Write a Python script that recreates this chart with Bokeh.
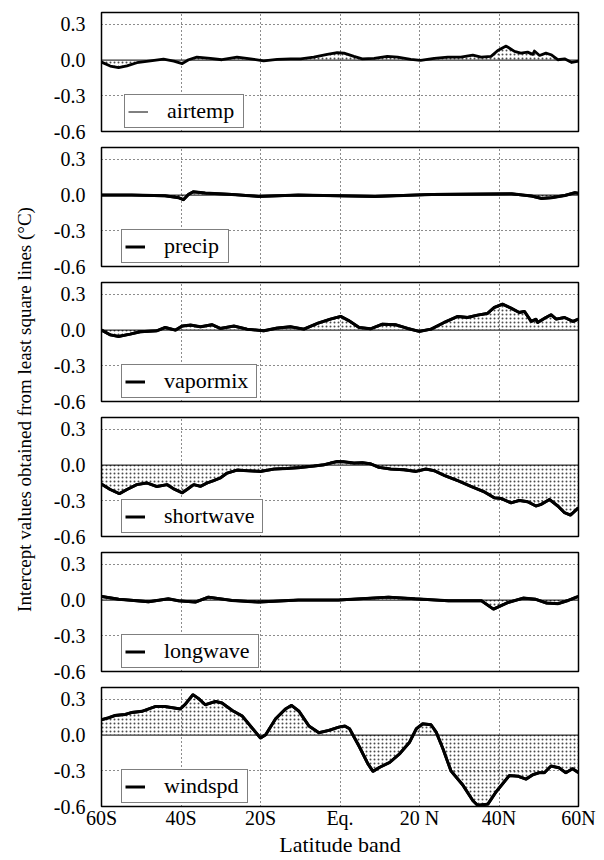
import numpy as np
from bokeh.plotting import figure
from bokeh.layouts import column, row
from bokeh.models import FixedTicker, Span, Legend, LegendItem, Range1d
from bokeh.embed import file_html
from bokeh.resources import INLINE
from bokeh.core.properties import value

FONT = "Liberation Serif"

x_ticks = [-60, -40, -20, 0, 20, 40, 60]
x_tick_labels = ["60S", "40S", "20S", "Eq.", "20 N", "40N", "60N"]
y_ticks = [-0.6, -0.3, 0.0, 0.3]
y_tick_labels = ["-0.6", "-0.3", "0.0", "0.3"]
x_label = "Latitude band"
y_label = "Intercept values obtained from least square lines (\u00b0C)"

airtemp_lat = [-60, -57.8, -55.7, -53.6, -51.1, -47.7, -44.4, -41.8, -39.7, -38.1, -36, -32.6, -29.7,
               -25.9, -22.5, -19.2, -15.8, -12.4, -9.9, -6.6, -3.2, -0.7, 1, 3.5, 5.6, 8.6, 11.9, 14.5,
               17.8, 20.3, 23.7, 27.1, 30.4, 33.4, 35.5, 38, 39.7, 41.8, 43.9, 45.5, 47.2, 48.5, 48.9,
               50.2, 51.8, 53.1, 54.8, 56.5, 58.3, 60]
airtemp_val = [-0.017, -0.05, -0.064, -0.048, -0.022, -0.006, 0.008, -0.008, -0.03, 0.003, 0.025, 0.014,
               0.003, 0.025, 0.011, -0.006, 0.006, 0.011, 0.010, 0.025, 0.048, 0.062, 0.059, 0.031, 0.011,
               0.014, 0.031, 0.025, 0.006, -0.003, 0.014, 0.025, 0.025, 0.042, 0.025, 0.031, 0.081, 0.118,
               0.073, 0.059, 0.067, 0.048, 0.076, 0.039, 0.059, 0.045, 0.003, 0.011, -0.02, -0.008]

precip_lat = [-60, -52.4, -44, -40.6, -39.4, -38.1, -36.9, -33.9, -27.2, -20.5, -10.5, 8.8, 23.1, 43.2,
              48.2, 50.7, 53.2, 56.6, 59.1, 60]
precip_val = [0.0, 0.0, -0.006, -0.022, -0.039, 0.006, 0.028, 0.017, 0.006, -0.011, 0.0, -0.011, 0.006,
              0.011, -0.008, -0.028, -0.022, -0.003, 0.02, 0.015]

vapormix_lat = [-60, -57.8, -55.7, -52.8, -50.3, -46.1, -44, -41.4, -39.7, -37.6, -35.1, -32.2, -30.1,
                -26.7, -23.4, -19.2, -15.8, -12.4, -9.1, -5.7, -2.4, 0.2, 2.3, 4.8, 7.7, 10.7, 14, 17,
                19.9, 22.9, 26.2, 29.6, 32.1, 34.6, 37.1, 38.8, 40.9, 43, 45.1, 46.4, 48.1, 49.3, 49.7,
                51.8, 53.1, 54.4, 56.5, 58.6, 60]
vapormix_val = [0.0, -0.04, -0.053, -0.034, -0.014, -0.006, 0.022, 0.0, 0.034, 0.042, 0.028, 0.045, 0.014,
                0.034, 0.008, -0.006, 0.017, 0.028, 0.008, 0.056, 0.092, 0.115, 0.078, 0.022, 0.011, 0.05,
                0.045, 0.014, -0.011, 0.008, 0.064, 0.115, 0.106, 0.126, 0.14, 0.19, 0.218, 0.185, 0.148,
                0.157, 0.073, 0.092, 0.064, 0.106, 0.129, 0.092, 0.106, 0.073, 0.092]

shortwave_lat = [-60, -57.8, -55.5, -53.6, -51.1, -48.6, -46.1, -43.5, -41.8, -39.7, -38.5, -36.8, -35.1,
                 -33.4, -31.8, -30.1, -28.4, -25.9, -23.4, -20, -16.6, -13.3, -9.9, -6.6, -4, -2.4, -0.7,
                 1, 3.5, 5.6, 7.7, 9.8, 12.8, 16.1, 19.1, 21.6, 23.7, 26.2, 29.6, 32.9, 36.3, 38.8, 40.5,
                 43, 45.1, 47.2, 49.3, 50.6, 52.7, 54.8, 56.5, 58, 60]
shortwave_val = [-0.16, -0.205, -0.24, -0.205, -0.164, -0.15, -0.18, -0.164, -0.2, -0.233, -0.205, -0.164,
                 -0.178, -0.15, -0.13, -0.108, -0.067, -0.042, -0.047, -0.053, -0.033, -0.028, -0.02,
                 -0.008, 0.003, 0.017, 0.03, 0.028, 0.017, 0.02, 0.011, -0.019, -0.033, -0.039, -0.053,
                 -0.033, -0.047, -0.086, -0.13, -0.178, -0.225, -0.275, -0.28, -0.317, -0.297, -0.308,
                 -0.344, -0.33, -0.289, -0.344, -0.4, -0.42, -0.358]

longwave_lat = [-60, -55.7, -48.2, -43.2, -40.6, -36.4, -33.1, -27.2, -20.5, -10.5, -0.4, 12.2, 18.9, 27.3,
                35.6, 38.6, 42.3, 46.1, 49.1, 52, 54.9, 57.4, 59.5, 60]
longwave_val = [0.031, 0.008, -0.014, 0.011, -0.006, -0.017, 0.025, -0.003, -0.017, 0.0, 0.0, 0.025, 0.011,
                -0.006, -0.006, -0.076, -0.02, 0.017, 0.008, -0.025, -0.03, -0.003, 0.025, 0.03]

windspd_lat = [-60, -58.2, -56.6, -54, -52.4, -49.8, -46.5, -44, -40.2, -38.9, -37, -35.5, -33.9, -31.3,
               -29.7, -27.1, -24.6, -22.1, -20, -18.7, -16.2, -13.7, -12.2, -10.3, -7.8, -5.3, -2.8, -0.3,
               1.2, 2.4, 4.9, 7, 8.3, 10, 12.5, 15, 17.5, 19.2, 20.8, 22.9, 24.2, 25.9, 27.9, 30.9, 33.4,
               34.6, 37.2, 39.2, 42.6, 44.7, 46.8, 48.5, 50.1, 51.4, 53.1, 55.1, 56.8, 58.5, 60]
windspd_val = [0.129, 0.146, 0.165, 0.174, 0.19, 0.2, 0.24, 0.24, 0.22, 0.26, 0.34, 0.305, 0.255, 0.283,
               0.27, 0.207, 0.16, 0.059, -0.025, 0.003, 0.137, 0.22, 0.25, 0.2, 0.076, 0.02, 0.04, 0.067,
               0.076, 0.053, -0.10, -0.24, -0.305, -0.27, -0.23, -0.157, -0.06, 0.053, 0.095, 0.087, 0.025,
               -0.115, -0.30, -0.42, -0.55, -0.59, -0.58, -0.48, -0.34, -0.345, -0.37, -0.333, -0.316,
               -0.316, -0.26, -0.275, -0.316, -0.283, -0.316]

series_names = ["airtemp", "precip", "vapormix", "shortwave", "longwave", "windspd"]
series_lat = [airtemp_lat, precip_lat, vapormix_lat, shortwave_lat, longwave_lat, windspd_lat]
series_val = [airtemp_val, precip_val, vapormix_val, shortwave_val, longwave_val, windspd_val]
legend_line_width = [1, 3, 3, 3, 3, 3]
legend_offset_x = [23, 20, 20, 20, 20, 20]
legend_label_width = [73, 61, 89, 95, 91, 80]

panels = []
n = len(series_names)
for i in range(n):
    last = (i == n - 1)
    p = figure(frame_width=477, frame_height=119,
               x_range=Range1d(-60, 60), y_range=Range1d(-0.6, 0.4),
               output_backend="svg", toolbar_location=None,
               min_border_left=61, min_border_right=26,
               min_border_top=12 if i == 0 else 6,
               min_border_bottom=54 if last else 10)
    p.outline_line_color = "black"
    p.outline_line_width = 1.5
    p.background_fill_color = "white"
    p.border_fill_color = "white"

    # grid
    p.xgrid.ticker = FixedTicker(ticks=[-40, -20, 0, 20, 40])
    p.ygrid.ticker = FixedTicker(ticks=[-0.3, 0.3])
    for g in (p.xgrid, p.ygrid):
        g.grid_line_color = "black"
        g.grid_line_dash = "1 3"
        g.grid_line_width = 1
        g.grid_line_alpha = 0.9

    # y axis
    p.yaxis.ticker = FixedTicker(ticks=y_ticks)
    p.yaxis.major_label_overrides = {t: l for t, l in zip(y_ticks, y_tick_labels)}
    p.yaxis.axis_line_color = None
    p.yaxis.major_tick_line_color = None
    p.yaxis.minor_tick_line_color = None
    p.yaxis.major_label_text_font = FONT
    p.yaxis.major_label_text_font_size = "20px"
    p.yaxis.major_label_text_color = "black"
    p.yaxis.major_label_standoff = 10

    # x axis
    p.xaxis.ticker = FixedTicker(ticks=x_ticks)
    p.xaxis.major_label_overrides = {t: l for t, l in zip(x_ticks, x_tick_labels)}
    p.xaxis.axis_line_color = None
    p.xaxis.major_tick_line_color = None
    p.xaxis.minor_tick_line_color = None
    p.xaxis.major_tick_out = 0
    p.xaxis.major_tick_in = 0
    p.xaxis.major_label_text_font = FONT
    p.xaxis.major_label_text_font_size = "20px"
    p.xaxis.major_label_text_color = "black"
    p.xaxis.major_label_standoff = 0
    if last:
        p.xaxis.axis_label = x_label
        p.xaxis.axis_label_text_font = FONT
        p.xaxis.axis_label_text_font_size = "22px"
        p.xaxis.axis_label_text_font_style = "normal"
        p.xaxis.axis_label_text_color = "black"
        p.xaxis.axis_label_standoff = 0
    else:
        p.xaxis.visible = False

    lat = series_lat[i]
    val = series_val[i]
    p.varea(x=lat, y1=val, y2=[0] * len(lat), fill_alpha=0,
            hatch_pattern="dot", hatch_scale=4, hatch_weight=1,
            hatch_color="black", hatch_alpha=0.7)
    p.add_layout(Span(location=0, dimension="width", line_color="black", line_width=1))
    leg_r = p.line(x=lat, y=val, line_color="black", line_width=legend_line_width[i])
    p.line(x=lat, y=val, line_color="black", line_width=2.8, line_join="round")

    legend = Legend(items=[LegendItem(label=series_names[i], renderers=[leg_r])],
                    location=(legend_offset_x[i], 3),
                    label_text_font=FONT, label_text_font_size="22px",
                    label_text_color="black",
                    glyph_width=20, glyph_height=17, label_height=17,
                    label_width=legend_label_width[i],
                    label_standoff=19, padding=3, margin=0,
                    border_line_color="black", border_line_width=1.2,
                    background_fill_color="white", background_fill_alpha=1)
    p.add_layout(legend)
    panels.append(p)

lab = figure(width=40, height=860, x_range=Range1d(0, 40), y_range=Range1d(0, 860),
             output_backend="svg", toolbar_location=None, min_border=0)
lab.axis.visible = False
lab.grid.visible = False
lab.outline_line_color = None
lab.text(x=[24], y=[451], text=[y_label], angle=np.pi / 2,
         text_align="center", text_baseline="middle",
         text_font=value(FONT), text_font_size="19px", text_color="black")

layout = row(lab, column(*panels, spacing=0), spacing=0)
open("out.html", "w").write(file_html(layout, INLINE))
